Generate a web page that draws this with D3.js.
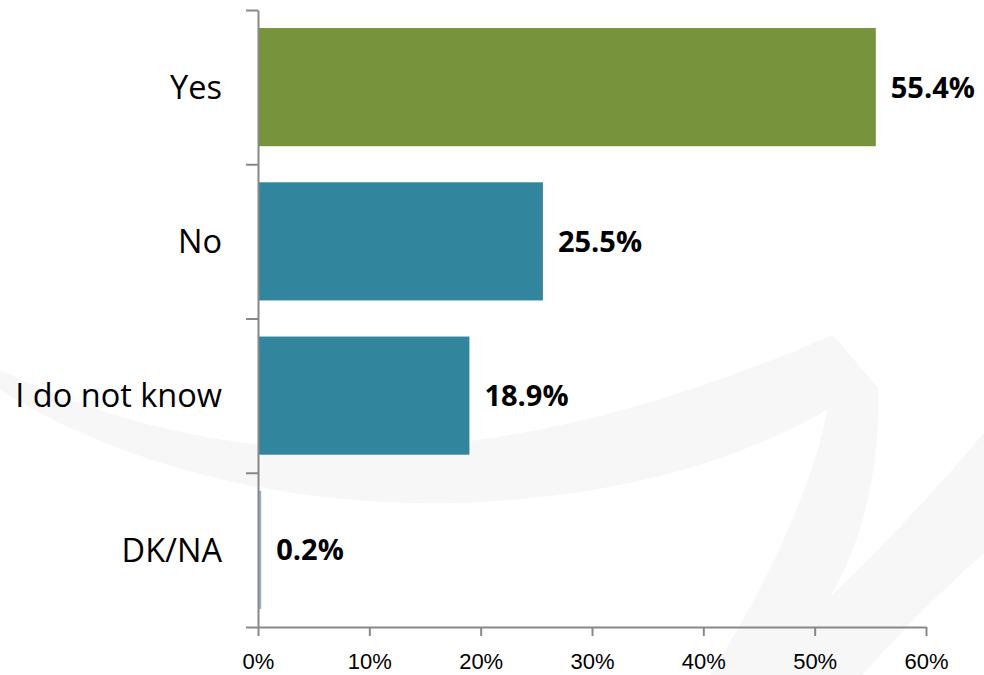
<!DOCTYPE html>
<html lang="en">
<head>
    <meta charset="utf-8" />
    <title>Survey answers</title>
    <script src="https://d3js.org/d3.v7.min.js"></script>
    <style>
        body, html {
            margin: 0;
            padding: 0;
            background: #ffffff;
        }
        svg {
            display: block;
            font-family: "Open Sans", "Noto Sans", Arial, sans-serif;
        }
        .axis path, .axis line {
            stroke: #888888;
            stroke-width: 2;
        }
        .axis text {
            font-size: 22px;
            fill: #000;
        }
        .cat {
            font-size: 32.5px;
            fill: #000;
        }
        .value {
            font-size: 29px;
            font-weight: bold;
            fill: #000;
        }
    </style>
</head>
<body>
<div id="canvas"></div>
<script>
    // data
    let categories = ["Yes", "No", "I do not know", "DK/NA"]
    let values = [55.4, 25.5, 18.9, 0.2]
    let barColors = ["#77933c", "#31859c", "#31859c", "#95b3d7"]
    let xTicks = [0, 10, 20, 30, 40, 50, 60]

    let width = 984, height = 675

    let svg = d3.select("#canvas")
        .append("svg")
        .attr("width", width)
        .attr("height", height)

    // faint watermark swoosh in the background
    svg.append("path")
        .attr("d", "M0,370 C250,490 520,470 833,335 L878,388 C880,450 870,530 830,597 "
            + "Q910,520 984,433 L984,553 Q920,610 862,675 L710,675 "
            + "C770,580 815,480 827,410 C620,530 250,545 0,390 Z")
        .style("fill", "#f7f7f7")

    // scales
    let xScale = d3.scaleLinear()
        .domain([0, 60])
        .range([258, 926])

    let yScale = d3.scaleBand()
        .domain(categories)
        .range([10, 627])
        .paddingInner(0.234)
        .paddingOuter(0.117)

    // category boundaries for the y ticks (ticks sit between categories)
    let yEdges = d3.scaleLinear()
        .domain([0, categories.length])
        .range([10, 627])

    // bars
    svg.selectAll("rect.bar")
        .data(values)
        .enter()
        .append("rect")
        .attr("class", "bar")
        .attr("x", xScale(0) + 1)
        .attr("y", (d, i) => yScale(categories[i]))
        .attr("width", d => xScale(d) - xScale(0))
        .attr("height", yScale.bandwidth())
        .style("fill", (d, i) => barColors[i])

    // x axis
    let xAxis = d3.axisBottom(xScale)
        .tickValues(xTicks)
        .tickFormat(d => d + "%")
        .tickSizeInner(9)
        .tickSizeOuter(0)
        .tickPadding(17)

    svg.append("g")
        .attr("class", "axis")
        .attr("transform", "translate(0, 627)")
        .call(xAxis)

    // y axis (ticks only, labels drawn separately)
    let yAxis = d3.axisLeft(yEdges)
        .tickValues(d3.range(categories.length + 1))
        .tickFormat("")
        .tickSizeInner(12)
        .tickSizeOuter(0)

    svg.append("g")
        .attr("class", "axis")
        .attr("transform", "translate(258, 0)")
        .call(yAxis)

    // category labels
    svg.selectAll("text.cat")
        .data(categories)
        .enter()
        .append("text")
        .attr("class", "cat")
        .attr("x", 222)
        .attr("y", d => yScale(d) + yScale.bandwidth() / 2)
        .attr("dy", "0.36em")
        .attr("text-anchor", "end")
        .text(d => d)

    // value labels
    svg.selectAll("text.value")
        .data(values)
        .enter()
        .append("text")
        .attr("class", "value")
        .attr("x", d => xScale(d) + 16)
        .attr("y", (d, i) => yScale(categories[i]) + yScale.bandwidth() / 2)
        .attr("dy", "0.36em")
        .text(d => d.toFixed(1) + "%")
</script>
</body>
</html>
